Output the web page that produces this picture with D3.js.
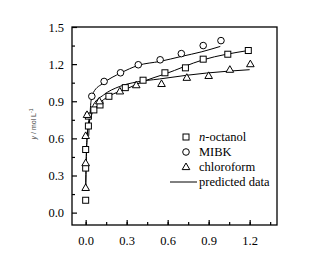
<!DOCTYPE html>
<html>
<head>
<meta charset="utf-8">
<script src="https://cdn.jsdelivr.net/npm/d3@7"></script>
<style>
  body { margin: 0; background: #fff; }
</style>
</head>
<body>
<svg id="chart" width="318" height="254"></svg>
<script>
//  measured data (x, y)
const octanol = [[0.0, 0.10], [0.0, 0.36], [0.0, 0.51], [0.02, 0.70], [0.02, 0.78], [0.06, 0.83], [0.105, 0.87],
  [0.17, 0.94], [0.29, 1.01], [0.42, 1.07], [0.58, 1.13], [0.73, 1.17], [0.86, 1.24], [1.04, 1.28], [1.19, 1.31]];
const mibk = [[0.045, 0.94], [0.135, 1.06], [0.255, 1.13], [0.385, 1.195], [0.545, 1.235], [0.70, 1.285], [0.86, 1.35], [0.99, 1.39]];
const chloroform = [[0.0, 0.20], [0.0, 0.40], [0.0, 0.62], [0.01, 0.79], [0.10, 0.90], [0.25, 0.98], [0.37, 1.03],
  [0.555, 1.04], [0.74, 1.09], [0.90, 1.105], [1.055, 1.155], [1.205, 1.20]];

//  predicted curves
const octanol_pred = [[0.0, 0.18], [0.004, 0.42], [0.01, 0.60], [0.02, 0.70], [0.04, 0.78], [0.09, 0.87],
  [0.17, 0.94], [0.30, 1.0], [0.42, 1.06], [0.58, 1.12], [0.86, 1.235], [1.19, 1.31]];
const mibk_pred = [[0.022, 0.62], [0.031, 0.78], [0.039, 0.90], [0.056, 0.97], [0.13, 1.047], [0.256, 1.128],
  [0.385, 1.19], [0.544, 1.222], [0.70, 1.262], [0.85, 1.30], [0.985, 1.343]];
const chloroform_pred = [[0.0, 0.18], [0.004, 0.42], [0.01, 0.60], [0.02, 0.72], [0.03, 0.79], [0.056, 0.87],
  [0.13, 0.95], [0.25, 1.02], [0.37, 1.055], [0.54, 1.08], [0.74, 1.11], [0.885, 1.128], [1.20, 1.155]];

const x_ticks = [0.0, 0.3, 0.6, 0.9, 1.2];
const y_ticks = [0.0, 0.3, 0.6, 0.9, 1.2, 1.5];
const legend_labels = ["n-octanol", "MIBK", "chloroform", "predicted data"];

const serif = "'Liberation Serif', 'Times New Roman', 'DejaVu Serif', serif";
const margin = ({top: 27, right: 41, bottom: 29, left: 72});
const w = 318, h = 254;

const svg = d3.select("#chart");
const x = d3.scaleLinear().domain([-0.1, 1.4]).range([margin.left, w - margin.right]);
const y = d3.scaleLinear().domain([-0.1, 1.5]).range([h - margin.bottom, margin.top]);

//  frame
svg.append("rect")
   .attr("x", margin.left).attr("y", margin.top)
   .attr("width", w - margin.right - margin.left)
   .attr("height", h - margin.bottom - margin.top)
   .attr("fill", "none").attr("stroke", "#000").attr("stroke-width", 1.3);

//  axes with inward ticks
const minor_x = d3.range(-0.15, 1.41, 0.15).filter(v => v > -0.1 && v < 1.4);
const minor_y = d3.range(0.15, 1.5, 0.3);

svg.append("g").attr("transform", `translate(0,${h - margin.bottom})`)
   .call(d3.axisBottom(x).tickValues(minor_x).tickSize(-3).tickFormat(""))
   .call(g => g.select(".domain").remove());
svg.append("g").attr("transform", `translate(0,${h - margin.bottom})`)
   .call(d3.axisBottom(x).tickValues(x_ticks).tickSize(-5).tickPadding(11).tickFormat(d3.format(".1f")))
   .call(g => g.select(".domain").remove());

svg.append("g").attr("transform", `translate(${margin.left},0)`)
   .call(d3.axisLeft(y).tickValues(minor_y).tickSize(-3).tickFormat(""))
   .call(g => g.select(".domain").remove());
svg.append("g").attr("transform", `translate(${margin.left},0)`)
   .call(d3.axisLeft(y).tickValues(y_ticks).tickSize(-5).tickPadding(8).tickFormat(d3.format(".1f")))
   .call(g => g.select(".domain").remove());

svg.selectAll(".tick line").attr("stroke", "#000").attr("stroke-width", 1.2);
svg.selectAll(".tick text")
   .attr("font-family", serif).attr("font-size", 12.5)
   .style("font-family", serif).style("font-size", "12.5px").attr("fill", "#000");

//  y label
const ylab = svg.append("text")
   .attr("transform", "translate(36,124) rotate(-90)")
   .attr("text-anchor", "middle")
   .style("font-family", "'Liberation Sans', Arial, sans-serif")
   .style("font-size", "7px").attr("fill", "#444");
ylab.append("tspan").style("font-style", "italic").text("y");
ylab.append("tspan").text(" / mol L");
ylab.append("tspan").attr("dy", -3).style("font-size", "5px").text("-1");

//  predicted lines
const line = d3.line().x(d => x(d[0])).y(d => y(d[1])).curve(d3.curveMonotoneX);
[octanol_pred, mibk_pred, chloroform_pred].forEach(s => {
  svg.append("path").datum(s).attr("d", line)
     .attr("fill", "none").attr("stroke", "#000").attr("stroke-width", 1);
});

//  markers
function draw_marker(g, kind, cx, cy) {
  if (kind == "square")
    g.append("rect").attr("x", cx - 3).attr("y", cy - 3).attr("width", 6).attr("height", 6);
  else if (kind == "circle")
    g.append("circle").attr("cx", cx).attr("cy", cy).attr("r", 3.3);
  else
    g.append("path").attr("d", `M${cx},${cy - 4}L${cx + 3.8},${cy + 2.6}L${cx - 3.8},${cy + 2.6}Z`);
}

const marks = svg.append("g").attr("fill", "#fff").attr("stroke", "#000").attr("stroke-width", 1);
[[octanol, "square"], [mibk, "circle"], [chloroform, "triangle"]].forEach(([s, kind]) => {
  s.forEach(d => draw_marker(marks, kind, x(d[0]), y(d[1])));
});

//  legend
const kinds = ["square", "circle", "triangle"];
legend_labels.forEach((lab, i) => {
  const ly = 137 + i * 15;
  if (i < 3)
    draw_marker(marks, kinds[i], 186, ly);
  else
    svg.append("line").attr("x1", 170).attr("x2", 197).attr("y1", ly).attr("y2", ly)
       .attr("stroke", "#000").attr("stroke-width", 1);
  const t = svg.append("text").attr("x", 199).attr("y", ly + 4)
     .style("font-family", serif).style("font-size", "12.5px").attr("fill", "#000");
  if (i == 0) {
    t.append("tspan").style("font-style", "italic").text("n");
    t.append("tspan").text("-octanol");
  } else {
    t.text(lab);
  }
});
</script>
</body>
</html>
